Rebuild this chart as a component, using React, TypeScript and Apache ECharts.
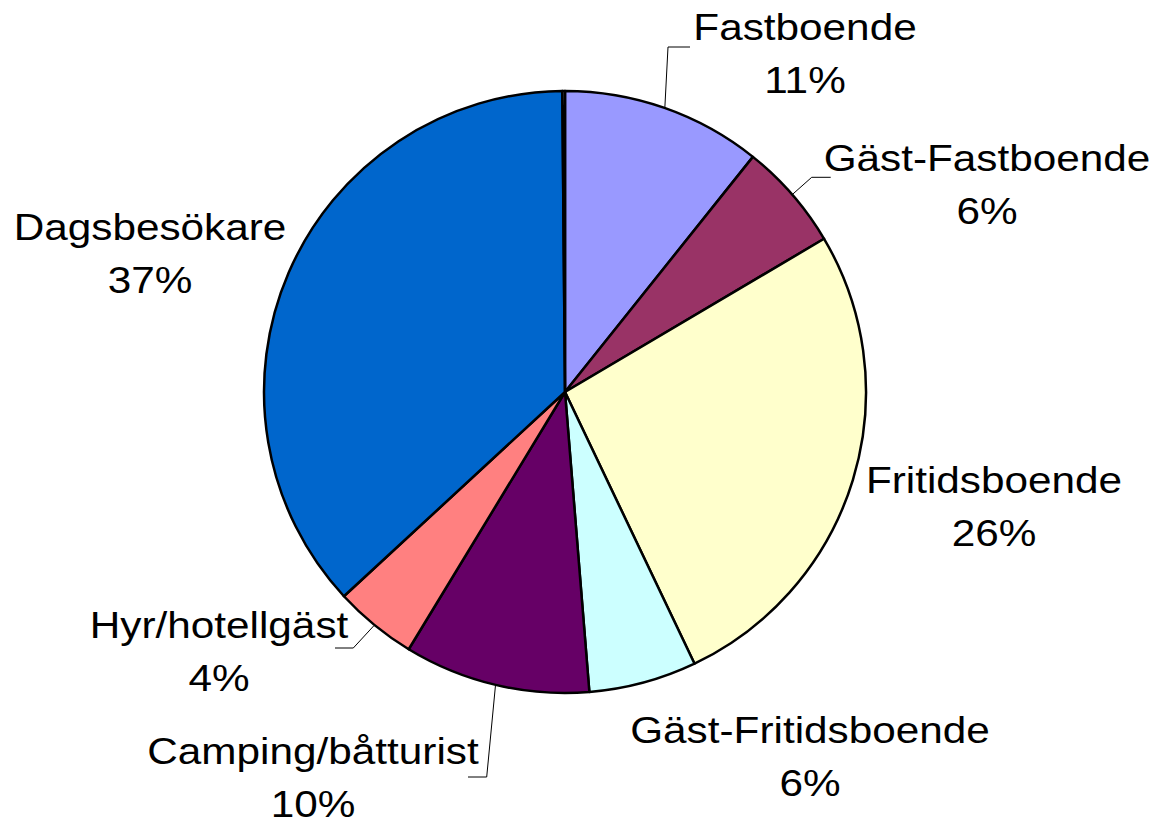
import React, { useEffect, useRef } from "react";
import * as echarts from "echarts";

// ---- data ----
const categories = [
  "Fastboende",
  "Gäst-Fastboende",
  "Fritidsboende",
  "Gäst-Fritidsboende",
  "Camping/båtturist",
  "Hyr/hotellgäst",
  "Dagsbesökare",
  "",
];
const shares = [10.73, 5.77, 26.42, 5.79, 9.98, 4.44, 36.73, 0.14];
const colors = ["#9999FF", "#993366", "#FFFFCC", "#CCFFFF", "#660066", "#FF8080", "#0066CC", "#FFFFFF"];

// ---- layout ----
const CX = 565;
const CY = 392;
const R = 301;
const FONT = 36;
const STRETCH = 1.175;
const LINE_H = 53;
const labelPos: number[][] = [
  [805, 54],
  [987, 185],
  [994, 507],
  [810, 757],
  [313, 778],
  [219, 652],
  [150, 254],
];
const leaderTail: (number[][] | null)[] = [
  [[668, 47], [690, 47]],
  [[811.7, 177.3], [830.7, 177.3]],
  null,
  null,
  [[486.7, 777], [468, 777]],
  [[353.3, 648], [335, 648]],
  null,
];

export default function App() {
  const ref = useRef<HTMLDivElement>(null);
  useEffect(() => {
    if (!ref.current) return;
    const chart = echarts.init(ref.current, undefined, { renderer: "svg" });
    const total = shares.reduce((a, b) => a + b, 0);
    const graphics: any[] = [];
    let cum = 0;
    shares.forEach((v, i) => {
      const mid = (cum + v / 2) / total;
      cum += v;
      if (i >= labelPos.length || !categories[i]) return;
      const pct = Math.round((v / total) * 100);
      const [lx, ly] = labelPos[i];
      graphics.push({
        type: "text",
        x: lx,
        y: ly,
        scaleX: STRETCH,
        silent: true,
        style: {
          text: categories[i] + "\n" + pct + "%",
          fill: "#000",
          fontSize: FONT,
          fontFamily: "'Liberation Sans', Arial, sans-serif",
          align: "center",
          verticalAlign: "middle",
          textAlign: "center",
          textVerticalAlign: "middle",
          lineHeight: LINE_H,
        },
      });
      const tail = leaderTail[i];
      if (tail) {
        const th = mid * Math.PI * 2;
        const sx = CX + (R + 1) * Math.sin(th);
        const sy = CY - (R + 1) * Math.cos(th);
        graphics.push({
          type: "polyline",
          silent: true,
          shape: { points: [[sx, sy], ...tail] },
          style: { stroke: "#000", lineWidth: 1, fill: null },
        });
      }
    });

    chart.setOption({
      animation: false,
      backgroundColor: "#fff",
      series: [
        {
          type: "pie",
          center: [CX, CY],
          radius: R,
          startAngle: 90,
          clockwise: true,
          avoidLabelOverlap: false,
          label: { show: false },
          labelLine: { show: false },
          emphasis: { disabled: true },
          itemStyle: { borderColor: "#000", borderWidth: 2.5 },
          data: shares.map((v, i) => ({
            name: categories[i],
            value: v,
            itemStyle: { color: colors[i] },
          })),
        },
      ],
      graphic: graphics,
    });
    return () => chart.dispose();
  }, []);
  return (
    <div
      ref={ref}
      style={{ position: "fixed", left: 0, top: 0, width: 1171, height: 826, background: "#fff" }}
    />
  );
}
